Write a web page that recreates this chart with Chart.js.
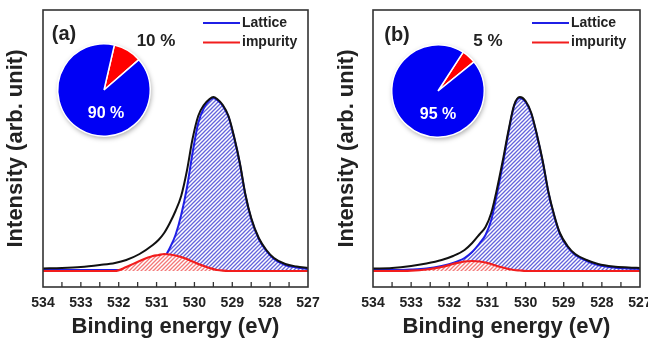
<!DOCTYPE html>
<html>
<head>
<meta charset="utf-8">
<script src="https://cdn.jsdelivr.net/npm/chart.js@4.4.1/dist/chart.umd.min.js"></script>
<style>
  body { margin: 0; background: #fff; width: 648px; height: 347px; overflow: hidden; position: relative;
         font-family: "Liberation Sans", Arial, sans-serif; }
  .box { position: absolute; }
  .lbl { position: absolute; font-weight: bold; white-space: nowrap; transform: translate(-50%, -50%); line-height: 1; }
</style>
</head>
<body>
<div class="box" style="left:0;top:0;width:324px;height:347px"><canvas id="specA"></canvas></div>
<div class="box" style="left:324px;top:0;width:324px;height:347px"><canvas id="specB"></canvas></div>
<div class="box" style="left:47px;top:33px;width:114px;height:114px"><canvas id="pieA"></canvas></div>
<div class="box" style="left:381px;top:34px;width:114px;height:114px"><canvas id="pieB"></canvas></div>
<div id="labels"></div>

<script>
// binding energy ticks (eV)
const xTicks = [534, 533, 532, 531, 530, 529, 528, 527];
const seriesNames = ['Lattice', 'impurity'];

// panel (a)
const energyA   = [534, 533.5, 533, 532.5, 532.1, 531.8, 531.45, 531.1, 530.95, 530.8, 530.65, 530.5, 530.35, 530.2, 530.05, 529.9, 529.75, 529.6, 529.5, 529.4, 529.25, 529.1, 528.95, 528.8, 528.65, 528.5, 528.3, 528.1, 527.9, 527.6, 527.3, 527];
const totalA    = [2.5, 3, 4, 6, 8, 11, 17, 26, 31, 38, 48, 60, 75, 100, 132, 155, 166, 172, 174, 172, 166, 155, 134, 108, 76, 53, 33, 21, 13, 7, 4.5, 3];
const latticeA  = [1, 1, 1, 1, 1, 1, 1.5, 3, 6, 13, 23, 36, 56, 83, 118, 148, 163, 171, 173, 171, 165, 154, 133, 107, 75, 52, 32, 20, 12, 6, 3.5, 2];
const impurityA = [0, 0, 0, 0, 0, 4, 10, 15, 16, 17, 16.5, 15.5, 14, 12, 9.5, 7, 5, 3, 2, 1, 0.3, 0, 0, 0, 0, 0, 0, 0, 0, 0, 0, 0];
const pieShareA = [10, 90];

// panel (b)
const energyB   = [534, 533.5, 533, 532.6, 532.2, 531.9, 531.6, 531.4, 531.2, 531.05, 530.9, 530.75, 530.6, 530.45, 530.3, 530.15, 530, 529.85, 529.7, 529.55, 529.4, 529.25, 529.1, 528.9, 528.7, 528.4, 528.1, 527.7, 527.3, 527];
const totalB    = [2.5, 3, 5, 7.5, 11, 15, 21, 28, 37, 44, 58, 82, 110, 140, 166, 174, 170, 158, 136, 110, 79, 56, 38, 25, 17, 11, 7, 4.5, 3.5, 3];
const latticeB  = [1, 1, 1.5, 2.5, 5, 8, 13, 19, 28, 36, 51, 77, 106, 138, 165, 173, 169, 157, 135, 109, 78, 55, 37, 24, 16, 10, 6, 3.5, 2.5, 2];
const impurityB = [0, 0, 0.3, 1.5, 4, 7, 9.5, 10, 9.5, 8.5, 7, 5, 3.5, 2, 1, 0.5, 0, 0, 0, 0, 0, 0, 0, 0, 0, 0, 0, 0, 0, 0];
const pieShareB = [5, 95];

Chart.defaults.font.family = '"Liberation Sans", Arial, sans-serif';
Chart.defaults.color = '#222';

function hatch(fg) {
    const c = document.createElement('canvas');
    c.width = 4; c.height = 4;
    const g = c.getContext('2d');
    g.fillStyle = '#fff';
    g.fillRect(0, 0, 4, 4);
    g.strokeStyle = fg;
    g.lineWidth = 1.3;
    g.beginPath();
    g.moveTo(0, 4); g.lineTo(4, 0);
    g.moveTo(-1, 1); g.lineTo(1, -1);
    g.moveTo(3, 5); g.lineTo(5, 3);
    g.stroke();
    return g.createPattern(c, 'repeat');
}

function points(xs, ys) {
    return xs.map((x, i) => ({ x: x, y: ys[i] }));
}

// frame around the plot plus inward ticks every 0.5 eV
const framePlugin = {
    id: 'frame',
    afterDraw(chart) {
        const { ctx, chartArea: a } = chart;
        const xs = chart.scales.x;
        ctx.save();
        ctx.strokeStyle = '#333';
        ctx.lineWidth = 1.6;
        ctx.strokeRect(a.left, a.top, a.right - a.left, a.bottom - a.top);
        ctx.lineWidth = 1.3;
        ctx.beginPath();
        for (let v = 527.5; v < 534; v += 0.5) {
            const px = xs.getPixelForValue(v);
            ctx.moveTo(px, a.bottom);
            ctx.lineTo(px, a.bottom - 5);
        }
        ctx.stroke();
        ctx.restore();
    }
};

// small legend inside the box, Lattice first
const legendPlugin = {
    id: 'peakLegend',
    afterDraw(chart, args, opts) {
        const { ctx, chartArea: a } = chart;
        ctx.save();
        ctx.font = 'bold 14px "Liberation Sans", Arial, sans-serif';
        ctx.textBaseline = 'middle';
        ctx.fillStyle = '#222';
        seriesNames.forEach((name, i) => {
            const d = chart.data.datasets.find(ds => ds.label === name);
            const y = a.top + 13 + i * 19.5;
            ctx.strokeStyle = d.borderColor;
            ctx.lineWidth = 2;
            ctx.beginPath();
            ctx.moveTo(opts.x, y);
            ctx.lineTo(opts.x + 37, y);
            ctx.stroke();
            ctx.fillText(d.label, opts.x + 39, y);
        });
        ctx.restore();
    }
};

function makeSpectrum(id, xs, total, lattice, impurity, yAxisWidth, yTitlePad, padRight, legendX) {
    new Chart(document.getElementById(id), {
        type: 'line',
        data: {
            datasets: [
                { label: 'total', data: points(xs, total), borderColor: '#111', borderWidth: 2,
                  pointRadius: 0, fill: false, order: 0 },
                { label: seriesNames[1], data: points(xs, impurity), borderColor: '#f21d1d', borderWidth: 2.2,
                  pointRadius: 0, fill: 'origin', backgroundColor: hatch('#f37777'), order: 1 },
                { label: seriesNames[0], data: points(xs, lattice), borderColor: '#1f1fe6', borderWidth: 2,
                  pointRadius: 0, fill: 'origin', backgroundColor: hatch('#6464dc'), order: 2 }
            ]
        },
        options: {
            responsive: true,
            maintainAspectRatio: false,
            animation: false,
            cubicInterpolationMode: 'monotone',
            layout: { padding: { left: 0, top: 10, right: padRight, bottom: 0 } },
            plugins: { legend: { display: false }, tooltip: { enabled: false }, peakLegend: { x: legendX } },
            scales: {
                x: {
                    type: 'linear',
                    reverse: true,
                    min: 527,
                    max: 534,
                    grid: { display: false, drawTicks: false },
                    border: { display: false },
                    afterBuildTicks: s => { s.ticks = xTicks.map(v => ({ value: v })); },
                    afterFit: s => { s.height = 60; s.paddingLeft = 0; s.paddingRight = 0; },
                    ticks: { autoSkip: false, maxRotation: 0, padding: 8, color: '#222',
                             font: { size: 14, weight: 'bold' } },
                    title: { display: true, text: 'Binding energy (eV)', color: '#222',
                             font: { size: 22, weight: 'bold' }, padding: { top: 0, bottom: 7 } }
                },
                y: {
                    min: -16,
                    max: 261,
                    grid: { display: false, drawTicks: false },
                    border: { display: false },
                    ticks: { display: false },
                    afterFit: s => { s.width = yAxisWidth; s.paddingTop = 0; s.paddingBottom = 0; },
                    title: { display: true, text: 'Intensity (arb. unit)', color: '#222',
                             font: { size: 22, weight: 'bold' }, padding: { top: yTitlePad, bottom: 0 } }
                }
            }
        },
        plugins: [framePlugin, legendPlugin]
    });
}

const pieShadow = {
    id: 'pieShadow',
    beforeDatasetsDraw(chart) {
        const arc = chart.getDatasetMeta(0).data[0];
        const ctx = chart.ctx;
        ctx.save();
        ctx.shadowColor = 'rgba(0,0,0,0.35)';
        ctx.shadowBlur = 5;
        ctx.shadowOffsetX = 1;
        ctx.shadowOffsetY = 2;
        ctx.beginPath();
        ctx.arc(arc.x, arc.y, arc.outerRadius, 0, Math.PI * 2);
        ctx.fillStyle = '#fff';
        ctx.fill();
        ctx.restore();
    }
};

function makePie(id, share, rotation) {
    new Chart(document.getElementById(id), {
        type: 'pie',
        data: {
            labels: seriesNames.slice().reverse(),
            datasets: [{ data: share, backgroundColor: ['#ff0000', '#0000f5'], borderColor: '#fff',
                         borderWidth: 1.5, hoverOffset: 0 }]
        },
        options: {
            responsive: true,
            maintainAspectRatio: false,
            animation: false,
            rotation: rotation,
            layout: { padding: 10 },
            plugins: { legend: { display: false }, tooltip: { enabled: false } }
        },
        plugins: [pieShadow]
    });
}

makeSpectrum('specA', energyA, totalA, latticeA, impurityA, 43, 3, 16, 203);
makeSpectrum('specB', energyB, totalB, latticeB, impurityB, 49, 10, 8, 208);
makePie('pieA', pieShareA, 13);
makePie('pieB', pieShareB, 33);

// panel tags and pie percentages
const labelSpecs = [
    { text: '(a)', x: 64, y: 33, size: 20, color: '#222' },
    { text: pieShareA[0] + ' %', x: 156, y: 40, size: 17, color: '#222' },
    { text: pieShareA[1] + ' %', x: 106, y: 113, size: 16, color: '#fff' },
    { text: '(b)', x: 397, y: 34, size: 20, color: '#222' },
    { text: pieShareB[0] + ' %', x: 488, y: 40, size: 17, color: '#222' },
    { text: pieShareB[1] + ' %', x: 438, y: 114, size: 16, color: '#fff' }
];
const holder = document.getElementById('labels');
labelSpecs.forEach(l => {
    const el = document.createElement('div');
    el.className = 'lbl';
    el.textContent = l.text;
    el.style.left = l.x + 'px';
    el.style.top = l.y + 'px';
    el.style.fontSize = l.size + 'px';
    el.style.color = l.color;
    holder.appendChild(el);
});
</script>
</body>
</html>
